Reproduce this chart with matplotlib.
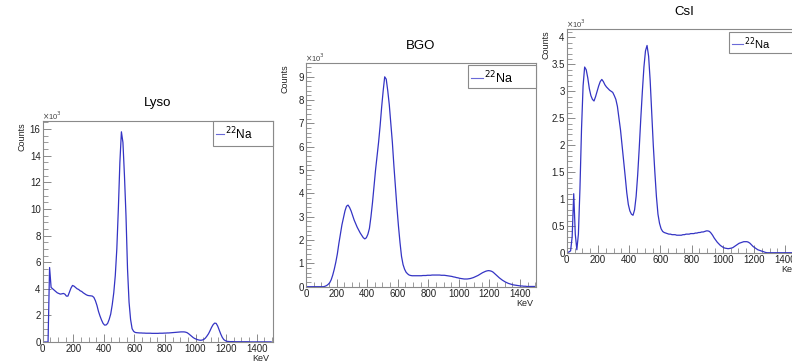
import numpy as np
import matplotlib
matplotlib.use("Agg")
import matplotlib.pyplot as plt
from matplotlib.patches import Rectangle
from matplotlib.lines import Line2D
from matplotlib.ticker import MultipleLocator, FuncFormatter

plt.rcParams['font.family'] = ['Liberation Sans', 'DejaVu Sans']

# ---------------- data (counts in units of 10^3, 10 keV bins from 0 to 1500 keV) ----------------
bin_edges_kev = np.arange(0, 1510, 10)

lyso_counts_k = [
    0, 0, 0, 0, 5.6, 4.1, 4.0, 3.9, 3.8, 3.7,
    3.65, 3.6, 3.62, 3.65, 3.6, 3.45, 3.45, 3.75, 4.05, 4.25,
    4.2, 4.1, 4.0, 3.95, 3.85, 3.8, 3.7, 3.62, 3.55, 3.5,
    3.48, 3.47, 3.45, 3.35, 3.1, 2.75, 2.3, 1.95, 1.65, 1.4,
    1.27, 1.28, 1.4, 1.7, 2.1, 2.8, 3.7, 5.0, 7.0, 10.0,
    13.5, 15.8, 15.0, 12.5, 9.5, 5.5, 3.0, 1.7, 1.0, 0.8,
    0.72, 0.7, 0.69, 0.68, 0.68, 0.67, 0.67, 0.66, 0.66, 0.66,
    0.66, 0.65, 0.65, 0.65, 0.65, 0.65, 0.66, 0.66, 0.66, 0.67,
    0.67, 0.68, 0.68, 0.69, 0.7, 0.71, 0.72, 0.73, 0.74, 0.75,
    0.76, 0.76, 0.76, 0.74, 0.7, 0.62, 0.52, 0.42, 0.33, 0.26,
    0.21, 0.17, 0.14, 0.13, 0.15, 0.2, 0.3, 0.45, 0.62, 0.85,
    1.1, 1.3, 1.42, 1.4, 1.2, 0.9, 0.6, 0.35, 0.18, 0.1,
    0.05, 0.04, 0.03, 0.03, 0.03, 0.02, 0.02, 0.02, 0.02, 0.02,
    0.02, 0.02, 0.02, 0.02, 0.02, 0.01, 0.01, 0.01, 0.01, 0.01,
    0.01, 0.01, 0.01, 0.01, 0.01, 0.01, 0.01, 0.01, 0.01, 0.01,
]

bgo_counts_k = [
    0, 0, 0, 0, 0, 0, 0, 0, 0, 0,
    0, 0, 0.02, 0.05, 0.1, 0.17, 0.3, 0.5, 0.75, 1.05,
    1.4, 1.85, 2.25, 2.65, 2.95, 3.25, 3.45, 3.5, 3.4, 3.25,
    3.05, 2.86, 2.7, 2.55, 2.42, 2.3, 2.2, 2.1, 2.05, 2.1,
    2.25, 2.5, 3.0, 3.6, 4.3, 5.0, 5.6, 6.2, 6.9, 7.7,
    8.4, 9.0, 8.9, 8.4, 7.8, 7.0, 6.2, 5.2, 4.3, 3.4,
    2.6, 1.9, 1.3, 0.95, 0.75, 0.62, 0.55, 0.5, 0.48, 0.47,
    0.47, 0.47, 0.47, 0.47, 0.47, 0.47, 0.48, 0.48, 0.48, 0.49,
    0.49, 0.49, 0.5, 0.5, 0.5, 0.5, 0.5, 0.5, 0.49, 0.49,
    0.49, 0.48, 0.47, 0.46, 0.45, 0.44, 0.42, 0.41, 0.39, 0.38,
    0.36, 0.35, 0.34, 0.33, 0.33, 0.33, 0.34, 0.35, 0.37, 0.39,
    0.42, 0.45, 0.48, 0.52, 0.56, 0.6, 0.63, 0.66, 0.68, 0.69,
    0.68, 0.66, 0.62, 0.56, 0.5, 0.44, 0.38, 0.33, 0.28, 0.24,
    0.2, 0.17, 0.14, 0.12, 0.1, 0.08, 0.07, 0.06, 0.05, 0.04,
    0.03, 0.03, 0.02, 0.02, 0.01, 0.01, 0.01, 0.01, 0.01, 0.01,
]

csi_counts_k = [
    0.01, 0.02, 0.04, 0.3, 1.1, 0.35, 0.06, 0.35, 1.2, 2.3,
    3.1, 3.45, 3.4, 3.25, 3.05, 2.92, 2.85, 2.82, 2.9, 3.0,
    3.1, 3.18, 3.22, 3.18, 3.12, 3.08, 3.05, 3.02, 3.0, 2.98,
    2.92, 2.85, 2.72, 2.5, 2.28, 2.0, 1.7, 1.42, 1.12, 0.9,
    0.78, 0.72, 0.7, 0.8, 1.05, 1.45, 1.95, 2.5, 3.0, 3.45,
    3.75, 3.85, 3.65, 3.2, 2.6, 2.0, 1.5, 1.05, 0.72, 0.55,
    0.45, 0.4, 0.38, 0.37, 0.36, 0.35, 0.35, 0.34, 0.34, 0.34,
    0.33, 0.33, 0.33, 0.33, 0.34, 0.34, 0.35, 0.35, 0.35, 0.36,
    0.36, 0.36, 0.37, 0.37, 0.38, 0.38, 0.39, 0.39, 0.4, 0.41,
    0.41, 0.4, 0.37, 0.33, 0.28, 0.24, 0.2, 0.17, 0.14, 0.12,
    0.1, 0.09, 0.085, 0.08, 0.085, 0.09, 0.1, 0.12, 0.14, 0.16,
    0.18, 0.19, 0.2, 0.21, 0.21, 0.21, 0.2, 0.18, 0.15, 0.12,
    0.1, 0.08, 0.06, 0.05, 0.04, 0.03, 0.02, 0.01, 0.005, 0.005,
    0.005, 0.005, 0.005, 0.005, 0.005, 0.005, 0.005, 0.005, 0.005, 0.005,
    0.005, 0.005, 0.005, 0.005, 0.005, 0.005, 0.005, 0.005, 0.005, 0.005,
]

titles = ["Lyso", "BGO", "CsI"]
legend_label = r"$^{22}$Na"
x_label = "KeV"
y_label = "Counts"

bin_centers_kev = 0.5 * (bin_edges_kev[:-1] + bin_edges_kev[1:])

# ---------------- layout (pixels) ----------------
W, H = 792, 361
fig = plt.figure(figsize=(W / 100, H / 100), dpi=100)
fig.patch.set_facecolor("white")

panels = [
    dict(data=lyso_counts_k, l=42.7, r=272.7, t=120.5, b=342.0, ymax=16.65, ymaj=2, ymin=0.5,
         leg=(213.3, 272.7, 120.5, 145.5), lfs=8.5, hl=8),
    dict(data=bgo_counts_k, l=306.0, r=536.0, t=63.3, b=286.7, ymax=9.58, ymaj=1, ymin=0.2,
         leg=(468.3, 536.0, 65.0, 88.3), lfs=9, hl=12),
    dict(data=csi_counts_k, l=566.7, r=801.5, t=29.3, b=253.0, ymax=4.15, ymaj=0.5, ymin=0.1,
         leg=(729.0, 801.5, 31.7, 53.3), lfs=8, hl=11),
]

line_color = "#3434c4"
frame_color = "#8a8a8a"
tick_fs = 7

def fmt(v, pos):
    return "%g" % round(v, 3)

for p, title in zip(panels, titles):
    l, r, t, b = p["l"], p["r"], p["t"], p["b"]
    ax = fig.add_axes([l / W, (H - b) / H, (r - l) / W, (b - t) / H])
    ax.plot(bin_centers_kev, p["data"], color=line_color, linewidth=0.9)
    ax.set_xlim(0, 1505)
    ax.set_ylim(0, p["ymax"])
    ax.xaxis.set_major_locator(MultipleLocator(200))
    ax.xaxis.set_minor_locator(MultipleLocator(50))
    ax.yaxis.set_major_locator(MultipleLocator(p["ymaj"]))
    ax.yaxis.set_minor_locator(MultipleLocator(p["ymin"]))
    ax.xaxis.set_major_formatter(FuncFormatter(fmt))
    ax.yaxis.set_major_formatter(FuncFormatter(fmt))
    ax.tick_params(which="both", direction="in", top=False, right=False,
                   color=frame_color, labelsize=tick_fs, labelcolor="#222222")
    ax.tick_params(which="major", length=6, width=0.7, pad=1.5)
    ax.tick_params(which="minor", length=3.5, width=0.6)
    for s in ax.spines.values():
        s.set_color(frame_color)
        s.set_linewidth(0.8)

    fig.text(((l + r) / 2) / W, (H - (t - 17.5)) / H, title, ha="center", va="center", fontsize=9.5)
    fig.text((l - 20.5) / W, (H - (t + 1.5)) / H, y_label, rotation=90, ha="center", va="top",
             fontsize=6.5, color="#222222")
    fig.text((r - 3) / W, (H - (b + 12)) / H, x_label, ha="right", va="top",
             fontsize=6.5, color="#222222")
    fig.text((l - 1) / W, (H - (t - 5)) / H, r"$\times$10$^{3}$", ha="left", va="center",
             fontsize=5.5, color="#444444")

    x0, x1, y0, y1 = p["leg"]
    fig.patches.append(Rectangle((x0 / W, (H - y1) / H), (x1 - x0) / W, (y1 - y0) / H,
                                 transform=fig.transFigure, facecolor="white",
                                 edgecolor=frame_color, linewidth=0.8, zorder=5))
    ym = (y0 + y1) / 2 + 1
    fig.lines.append(Line2D([(x0 + 3) / W, (x0 + 3 + p["hl"]) / W], [(H - ym) / H, (H - ym) / H],
                            transform=fig.transFigure, color="#6a6ad8", linewidth=0.8, zorder=6))
    fig.text((x0 + 4 + p["hl"]) / W, (H - ym) / H, legend_label, ha="left", va="center",
             fontsize=p["lfs"], zorder=7)

fig.savefig("out.png", dpi=100)
